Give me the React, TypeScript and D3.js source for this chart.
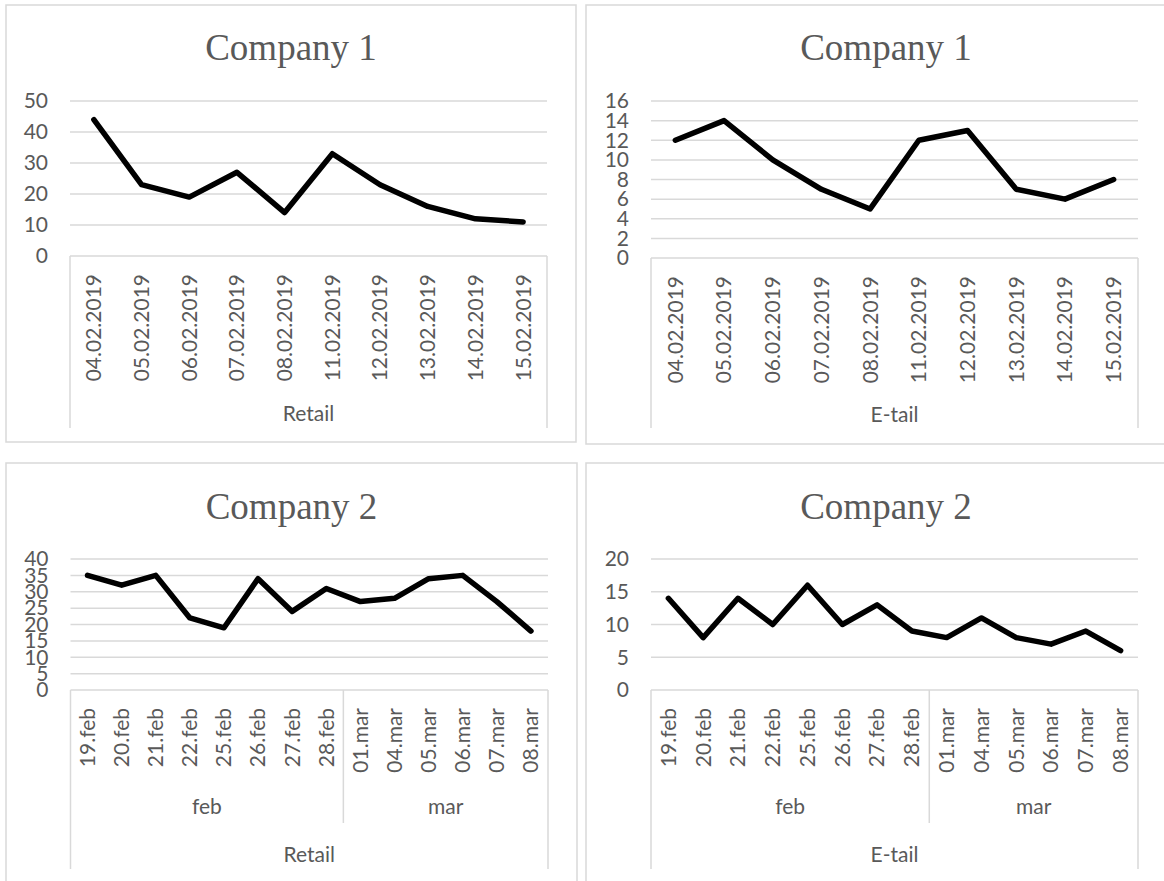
import * as d3 from 'd3'

// ── Data ───────────────────────────────────────────────────────────────
const FEB_DATES = ['04.02.2019', '05.02.2019', '06.02.2019', '07.02.2019', '08.02.2019',
  '11.02.2019', '12.02.2019', '13.02.2019', '14.02.2019', '15.02.2019']
const C1_RETAIL = [44, 23, 19, 27, 14, 33, 23, 16, 12, 11]
const C1_ETAIL = [12, 14, 10, 7, 5, 12, 13, 7, 6, 8]

const FEB_DAYS = ['19.feb', '20.feb', '21.feb', '22.feb', '25.feb', '26.feb', '27.feb', '28.feb']
const MAR_DAYS = ['01.mar', '04.mar', '05.mar', '06.mar', '07.mar', '08.mar']
const C2_RETAIL = [35, 32, 35, 22, 19, 34, 24, 31, 27, 28, 34, 35, 27, 18]
const C2_ETAIL = [14, 8, 14, 10, 16, 10, 13, 9, 8, 11, 8, 7, 9, 6]

const C1_TICKS_RETAIL = [0, 10, 20, 30, 40, 50]
const C1_TICKS_ETAIL = [0, 2, 4, 6, 8, 10, 12, 14, 16]
const C2_TICKS_RETAIL = [0, 5, 10, 15, 20, 25, 30, 35, 40]
const C2_TICKS_ETAIL = [0, 5, 10, 15, 20]

const GRID = '#d9d9d9'
const TEXT = '#595959'
const SANS = 'Lato, "Open Sans", sans-serif'
const SERIF = '"Liberation Serif", "Times New Roman", serif'

type Group = { label: string; items: string[] }

type PanelProps = {
  title: string
  axisTitle: string
  box: { x: number; y: number; w: number; h: number }
  plot: { x0: number; x1: number; yTop: number; yBottom: number }
  axisBottom: number
  groups: Group[]
  groupBottom?: number
  values: number[]
  ticks: number[]
  titleY: number
  groupY?: number
  axisTitleY: number
}

function Panel(p: PanelProps) {
  const cats = p.groups.flatMap((g) => g.items)
  const x = d3.scaleBand<string>().domain(cats).range([p.plot.x0, p.plot.x1])
  const yMax = p.ticks[p.ticks.length - 1]
  const y = d3.scaleLinear().domain([0, yMax]).range([p.plot.yBottom, p.plot.yTop])
  const line = d3.line<number>()
    .x((_, i) => (x(cats[i]) as number) + x.bandwidth() / 2)
    .y((d) => y(d))

  const multi = p.groups.length > 1
  let acc = 0
  const groupBounds = p.groups.map((g) => {
    const start = x(g.items[0]) as number
    const end = (x(g.items[g.items.length - 1]) as number) + x.bandwidth()
    acc += g.items.length
    return { label: g.label, start, end, last: acc === cats.length }
  })

  return (
    <g>
      <rect x={p.box.x} y={p.box.y} width={p.box.w} height={p.box.h}
        fill="white" stroke={GRID} strokeWidth={1.5} />
      <text x={p.box.x + p.box.w / 2 > 1164 ? 876 : p.box.x + p.box.w / 2} y={p.titleY}
        textAnchor="middle" fontFamily={SERIF} fontSize={37} fill={TEXT}>{p.title}</text>

      {/* gridlines */}
      {p.ticks.filter((t) => t > 0).map((t) => (
        <line key={t} x1={p.plot.x0} x2={p.plot.x1} y1={y(t)} y2={y(t)}
          stroke={GRID} strokeWidth={1.5} />
      ))}
      {/* y labels */}
      {p.ticks.map((t) => (
        <text key={'l' + t} x={p.plot.x0 - 22} y={y(t)} dy="0.35em" textAnchor="end"
          fontFamily={SANS} fontSize={21} fill={TEXT}>{t}</text>
      ))}

      {/* category axis frame */}
      <line x1={p.plot.x0} x2={p.plot.x1} y1={p.plot.yBottom} y2={p.plot.yBottom} stroke={GRID} strokeWidth={1.5} />
      <line x1={p.plot.x0} x2={p.plot.x0} y1={p.plot.yBottom} y2={p.axisBottom} stroke={GRID} strokeWidth={1.5} />
      <line x1={p.plot.x1} x2={p.plot.x1} y1={p.plot.yBottom} y2={p.axisBottom} stroke={GRID} strokeWidth={1.5} />
      {multi && groupBounds.filter((g) => !g.last).map((g) => (
        <line key={'s' + g.label} x1={g.end} x2={g.end} y1={p.plot.yBottom} y2={p.groupBottom}
          stroke={GRID} strokeWidth={1.5} />
      ))}

      {/* tick labels */}
      {cats.map((c) => {
        const cx = (x(c) as number) + x.bandwidth() / 2
        const cy = p.plot.yBottom + 18
        return (
          <text key={'c' + c} transform={`translate(${cx},${cy}) rotate(-90)`} dy="0.35em"
            textAnchor="end" fontFamily={SANS} fontSize={21} fill={TEXT}>{c}</text>
        )
      })}

      {multi && groupBounds.map((g) => (
        <text key={'g' + g.label} x={(g.start + g.end) / 2} y={p.groupY} textAnchor="middle"
          fontFamily={SANS} fontSize={21} fill={TEXT}>{g.label}</text>
      ))}

      <text x={(p.plot.x0 + p.plot.x1) / 2} y={p.axisTitleY} textAnchor="middle"
        fontFamily={SANS} fontSize={21} fill={TEXT}>{p.axisTitle}</text>

      <path d={line(p.values) ?? ''} fill="none" stroke="black" strokeWidth={5.5}
        strokeLinejoin="round" strokeLinecap="round" />
    </g>
  )
}

export default function App() {
  return (
    <svg width={1164} height={881} style={{ position: 'absolute', left: 0, top: 0, background: 'white' }}>
      <Panel title="Company 1" axisTitle="Retail"
        box={{ x: 6, y: 5, w: 570, h: 437 }}
        plot={{ x0: 70, x1: 547, yTop: 101, yBottom: 256 }}
        axisBottom={428}
        groups={[{ label: '', items: FEB_DATES }]}
        values={C1_RETAIL} ticks={C1_TICKS_RETAIL}
        titleY={60} axisTitleY={421} />
      <Panel title="Company 1" axisTitle="E-tail"
        box={{ x: 586, y: 5, w: 600, h: 439 }}
        plot={{ x0: 651, x1: 1138, yTop: 101, yBottom: 258 }}
        axisBottom={428}
        groups={[{ label: '', items: FEB_DATES }]}
        values={C1_ETAIL} ticks={C1_TICKS_ETAIL}
        titleY={60} axisTitleY={422} />
      <Panel title="Company 2" axisTitle="Retail"
        box={{ x: 6, y: 463, w: 571, h: 440 }}
        plot={{ x0: 70.5, x1: 548, yTop: 559, yBottom: 690 }}
        axisBottom={869} groupBottom={823}
        groups={[{ label: 'feb', items: FEB_DAYS }, { label: 'mar', items: MAR_DAYS }]}
        values={C2_RETAIL} ticks={C2_TICKS_RETAIL}
        titleY={519} groupY={814} axisTitleY={862} />
      <Panel title="Company 2" axisTitle="E-tail"
        box={{ x: 586, y: 463, w: 600, h: 440 }}
        plot={{ x0: 651, x1: 1138, yTop: 559, yBottom: 690 }}
        axisBottom={869} groupBottom={823}
        groups={[{ label: 'feb', items: FEB_DAYS }, { label: 'mar', items: MAR_DAYS }]}
        values={C2_ETAIL} ticks={C2_TICKS_ETAIL}
        titleY={519} groupY={814} axisTitleY={862} />
    </svg>
  )
}
